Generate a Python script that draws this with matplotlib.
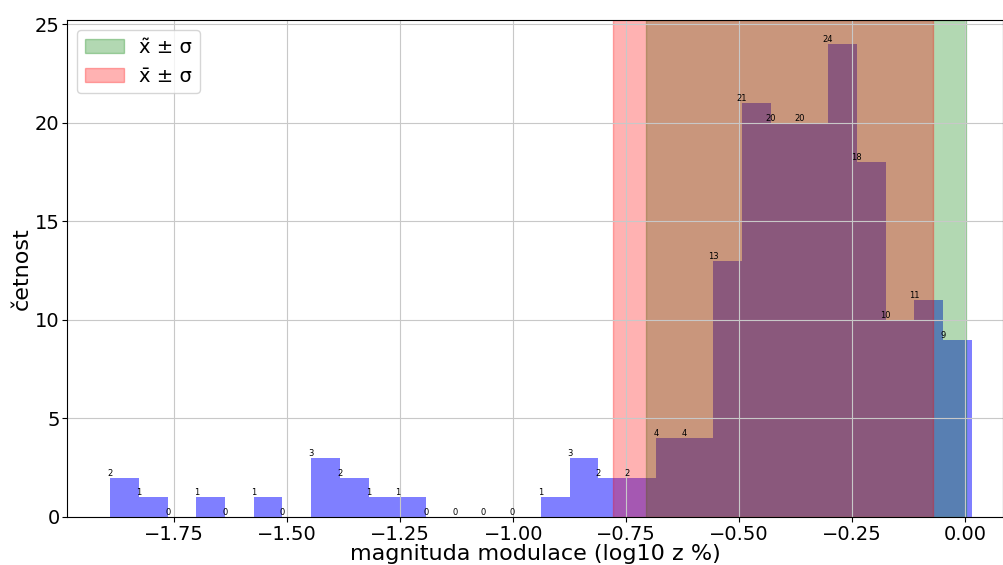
import numpy as np
import matplotlib.pyplot as plt

# histogram counts (30 bins)
counts = [2, 1, 0, 1, 0, 1, 0, 3, 2, 1, 1, 0, 0, 0, 0,
          1, 3, 2, 2, 4, 4, 13, 21, 20, 20, 24, 18, 10, 11, 9]
data_min = -1.892
data_max = 0.0148

median = -0.352
mean = -0.425
sigma = 0.354

edges = np.linspace(data_min, data_max, len(counts) + 1)
width = edges[1] - edges[0]

fig = plt.figure(figsize=(10.04, 5.65), dpi=100)
ax = fig.add_subplot(111)

ax.bar(edges[:-1], counts, width=width, align='edge', color='blue', alpha=0.5)
for x, c in zip(edges[:-1], counts):
    ax.text(x, c, str(c), ha='center', va='bottom', fontsize=6)

ax.axvspan(median - sigma, median + sigma, color='green', alpha=0.3, label='x\u0303 \u00b1 \u03c3')
ax.axvspan(mean - sigma, mean + sigma, color='red', alpha=0.3, label='x\u0304 \u00b1 \u03c3')

ax.set_xlim(-1.987, 0.084)
ax.set_ylim(0, 25.2)
ax.grid(True, color='#c8c8c8', linewidth=0.8)
ax.tick_params(labelsize=14, pad=2)
ax.set_xlabel('magnituda modulace (log10 z %)', fontsize=16, labelpad=0)
ax.set_ylabel('četnost', fontsize=16, labelpad=2)
ax.legend(loc='upper left', fontsize=14)

fig.subplots_adjust(left=0.067, right=0.999, top=0.964, bottom=0.085)
plt.savefig('out.png')
